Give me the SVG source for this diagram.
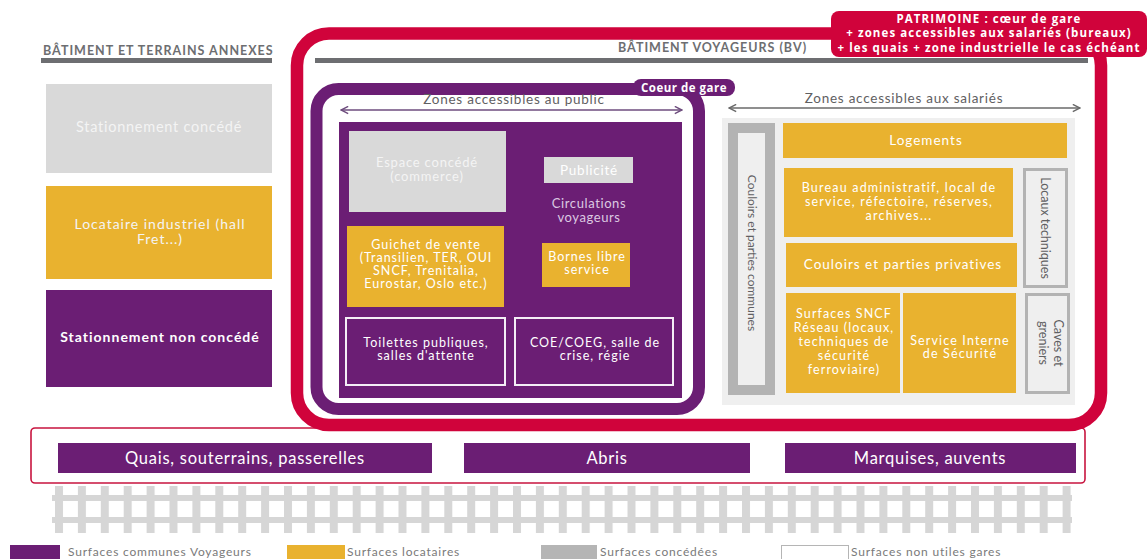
<svg xmlns="http://www.w3.org/2000/svg" width="1148" height="559" viewBox="0 0 1148 559">
  <style>
    .t { font-family: Lato, "Noto Sans", "DejaVu Sans", sans-serif; text-anchor: middle; letter-spacing: 0.75px; }
    .w { fill: #ffffff; font-size: 12.5px; letter-spacing: 1px; }
    .wl { fill: #f4f4f4; font-size: 14.5px; }
    .g { fill: #5f6062; font-size: 13.5px; }
    .v { fill: #5f6062; font-size: 12px; letter-spacing: 0; }
    .hd { font-family: Lato, "Noto Sans", sans-serif; font-weight: 700; fill: #6d6e71; font-size: 12.5px; letter-spacing: 1px; }
    .lg { font-family: Lato, "Noto Sans", sans-serif; fill: #7a7a7a; font-size: 12px; letter-spacing: 0.8px; }
    .purple { fill: #6b1e74; }
    .yellow { fill: #e9b22f; }
    .grey { fill: #d9d9d9; }
    .lbl { font-family: "Open Sans", "DejaVu Sans", sans-serif; font-weight: 700; fill: #ffffff; text-anchor: middle; }
    .bar { fill: #6d6e71; }
    .bt { font-size: 16.5px; fill: #ffffff; }
  </style>
  <defs>
    <marker id="chev" viewBox="0 0 10 10" refX="9" refY="5" markerWidth="9" markerHeight="9" orient="auto-start-reverse" markerUnits="userSpaceOnUse">
      <path d="M1,1 L9,5 L1,9" fill="none" stroke="context-stroke" stroke-width="1.6"/>
    </marker>
    <pattern id="ties" patternUnits="userSpaceOnUse" x="55" y="0" width="22.9" height="559">
      <rect x="0" y="486" width="8" height="47" fill="#d6d6d6"/>
    </pattern>
  </defs>

  <rect width="1148" height="559" fill="#ffffff"/>

  <!-- left column: annex buildings and land -->
  <g id="annexes-header">
    <text class="hd" x="43" y="55">BÂTIMENT ET TERRAINS ANNEXES</text>
    <rect class="bar" x="41" y="58" width="231" height="5"/>
  </g>
  <g id="stationnement-concede">
    <rect class="grey" x="46" y="84" width="226" height="89"/>
    <text class="t wl" x="159" y="132">Stationnement concédé</text>
  </g>
  <g id="locataire-industriel">
    <rect class="yellow" x="46" y="186" width="226" height="93"/>
    <text class="t wl" x="160" y="229" style="font-size:14px;letter-spacing:1px">Locataire industriel (hall<tspan x="160" dy="15">Fret...)</tspan></text>
  </g>
  <g id="stationnement-non-concede">
    <rect class="purple" x="46" y="290" width="226" height="97"/>
    <text class="t" x="160" y="342" fill="#ffffff" font-weight="700" style="font-size:14px;letter-spacing:1px">Stationnement non concédé</text>
  </g>

  <!-- platforms frame -->
  <g id="quais-frame">
    <rect x="31" y="428" width="1054" height="55" rx="4" fill="#ffffff" stroke="#c8143f" stroke-width="1.6"/>
  </g>

  <!-- heritage frame (red) -->
  <g id="patrimoine-frame">
    <rect x="297" y="33.5" width="804" height="391.5" rx="32" fill="#ffffff" stroke="#d0033b" stroke-width="12.5"/>
  </g>

  <!-- passenger building header -->
  <g id="bv-header">
    <text class="hd" x="618" y="52" font-weight="600">BÂTIMENT VOYAGEURS (BV)</text>
    <rect class="bar" x="315" y="58" width="773" height="5"/>
  </g>

  <g id="patrimoine-label">
    <rect x="831" y="11" width="316" height="46" rx="8" fill="#d0033b"/>
    <text class="lbl" x="989" y="22.5" style="font-size:11.5px;letter-spacing:1.1px">PATRIMOINE : cœur de gare<tspan x="989" dy="14.5">+ zones accessibles aux salariés (bureaux)</tspan><tspan x="989" dy="14.5">+ les quais + zone industrielle le cas échéant</tspan></text>
  </g>

  <!-- station core (purple) -->
  <g id="coeur-de-gare">
    <rect x="316.5" y="89" width="382.5" height="320" rx="22" fill="#ffffff" stroke="#6b1e74" stroke-width="12"/>
    <rect class="purple" x="339" y="122" width="343" height="276"/>
    <rect x="633" y="79" width="102" height="17" rx="8" fill="#6b1e74"/>
    <text class="lbl" x="684" y="92" style="font-size:11.5px;letter-spacing:0.5px">Coeur de gare</text>
  </g>

  <g id="espace-concede">
    <rect class="grey" x="349" y="131" width="157" height="81"/>
    <text class="t wl" x="427" y="167" style="font-size:13px;letter-spacing:0.8px">Espace concédé<tspan x="427" dy="14">(commerce)</tspan></text>
  </g>
  <g id="publicite">
    <rect class="grey" x="544" y="157" width="89" height="26"/>
    <text class="t" x="589" y="175" fill="#ffffff" style="font-size:13.5px">Publicité</text>
  </g>
  <g id="circulations">
    <text class="t" x="589" y="208" fill="#dcc9e2" style="font-size:13px;letter-spacing:0.6px">Circulations<tspan x="589" dy="14">voyageurs</tspan></text>
  </g>
  <g id="guichet">
    <rect class="yellow" x="347" y="226" width="157" height="81"/>
    <text class="t w" x="426" y="249">Guichet de vente<tspan x="426" dy="13">(Transilien, TER, OUI</tspan><tspan x="426" dy="13">SNCF, Trenitalia,</tspan><tspan x="426" dy="13">Eurostar, Oslo etc.)</tspan></text>
  </g>
  <g id="bornes">
    <rect class="yellow" x="542" y="243" width="88" height="44"/>
    <text class="t w" x="587" y="261">Bornes libre<tspan x="587" dy="13">service</tspan></text>
  </g>
  <g id="toilettes">
    <rect x="346" y="318" width="159" height="67" fill="#6b1e74" stroke="#f4eef6" stroke-width="2"/>
    <text class="t w" x="426" y="347">Toilettes publiques,<tspan x="426" dy="13">salles d'attente</tspan></text>
  </g>
  <g id="coe">
    <rect x="515" y="318" width="158" height="67" fill="#6b1e74" stroke="#f4eef6" stroke-width="2"/>
    <text class="t w" x="595" y="347">COE/COEG, salle de<tspan x="595" dy="13">crise, régie</tspan></text>
  </g>

  <!-- staff areas -->
  <g id="zone-salaries">
    <rect x="722" y="118" width="353" height="287" fill="#efefef"/>
  </g>
  <g id="couloirs-communs">
    <rect x="733" y="128" width="37" height="262" fill="#efefef" stroke="#b3b3b3" stroke-width="10"/>
    <text class="t v" x="0" y="0" transform="translate(748 253) rotate(90)">Couloirs et parties communes</text>
  </g>
  <g id="logements">
    <rect class="yellow" x="783" y="123" width="284" height="35"/>
    <text class="t w" x="926" y="145" style="font-size:13.5px;letter-spacing:1px">Logements</text>
  </g>
  <g id="bureaux">
    <rect class="yellow" x="784" y="168" width="229" height="69"/>
    <text class="t w" x="899" y="192" style="letter-spacing:1.2px">Bureau administratif, local de<tspan x="899" dy="14">service, réfectoire, réserves,</tspan><tspan x="899" dy="14">archives...</tspan></text>
  </g>
  <g id="couloirs-privatifs">
    <rect class="yellow" x="786" y="243" width="231" height="44"/>
    <text class="t w" x="903" y="269" style="font-size:13.5px;letter-spacing:1px">Couloirs et parties privatives</text>
  </g>
  <g id="surfaces-reseau">
    <rect class="yellow" x="786" y="293" width="114" height="100"/>
    <text class="t w" x="844" y="318" style="letter-spacing:1.1px">Surfaces SNCF<tspan x="844" dy="14">Réseau (locaux,</tspan><tspan x="844" dy="14">techniques de</tspan><tspan x="844" dy="14">sécurité</tspan><tspan x="844" dy="14">ferroviaire)</tspan></text>
  </g>
  <g id="suge">
    <rect class="yellow" x="903" y="293" width="113" height="100"/>
    <text class="t w" x="960" y="345" style="letter-spacing:1.15px">Service Interne<tspan x="960" dy="13">de Sécurité</tspan></text>
  </g>
  <g id="locaux-techniques">
    <rect x="1024.5" y="169.5" width="42" height="117" fill="#efefef" stroke="#b3b3b3" stroke-width="3"/>
    <text class="t v" x="0" y="0" style="font-size:12.5px" transform="translate(1041 228) rotate(90)">Locaux techniques</text>
  </g>
  <g id="caves">
    <rect x="1026.5" y="294.5" width="42" height="98" fill="#efefef" stroke="#b3b3b3" stroke-width="3"/>
    <text class="t v" x="0" y="0" style="font-size:12.5px" transform="translate(1054 343) rotate(90)">Caves et<tspan x="0" dy="15">greniers</tspan></text>
  </g>

  <!-- platform items -->
  <g id="quais">
    <rect class="purple" x="58" y="443" width="374" height="30"/>
    <text class="t bt" x="245" y="464">Quais, souterrains, passerelles</text>
  </g>
  <g id="abris">
    <rect class="purple" x="464" y="443" width="286" height="30"/>
    <text class="t bt" x="607" y="464">Abris</text>
  </g>
  <g id="marquises">
    <rect class="purple" x="785" y="443" width="291" height="30"/>
    <text class="t bt" x="930" y="464">Marquises, auvents</text>
  </g>

  <!-- tracks -->
  <g id="voies">
    <rect x="55" y="486" width="1016" height="47" fill="url(#ties)"/>
    <rect x="52" y="495" width="1020" height="6" fill="#d6d6d6"/>
    <rect x="52" y="517" width="1020" height="6" fill="#d6d6d6"/>
  </g>

  <!-- zone span arrows -->
  <g id="connectors">
    <line x1="341" y1="110" x2="682" y2="110" stroke="#6e4d7e" stroke-width="1.5" marker-start="url(#chev)" marker-end="url(#chev)"/>
    <line x1="729" y1="108" x2="1080" y2="108" stroke="#6a6a6a" stroke-width="1.5" marker-start="url(#chev)" marker-end="url(#chev)"/>
  </g>
  <g id="zone-labels">
    <text class="t g" x="514" y="104">Zones accessibles au public</text>
    <text class="t g" x="904" y="103">Zones accessibles aux salariés</text>
  </g>

  <!-- legend -->
  <g id="legende">
    <rect class="purple" x="10" y="545" width="50" height="14"/>
    <text class="lg" x="68" y="556">Surfaces communes Voyageurs</text>
    <rect class="yellow" x="287" y="545" width="58" height="14"/>
    <text class="lg" x="347" y="556">Surfaces locataires</text>
    <rect fill="#b5b5b5" x="541" y="545" width="56" height="14"/>
    <text class="lg" x="600" y="556">Surfaces concédées</text>
    <rect x="781.5" y="545.5" width="67" height="14" fill="#ffffff" stroke="#b5b5b5" stroke-width="1"/>
    <text class="lg" x="851" y="556">Surfaces non utiles gares</text>
  </g>
</svg>
